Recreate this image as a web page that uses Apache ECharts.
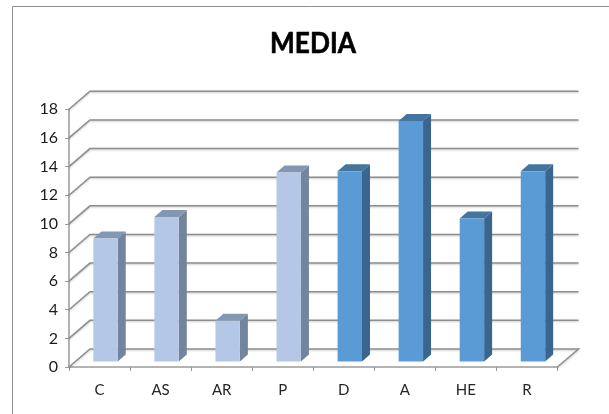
<!DOCTYPE html>
<html>
<head>
<meta charset="utf-8">
<style>html,body{margin:0;padding:0;background:#fff}#chart{width:609px;height:414px}</style>
<script src="https://cdn.jsdelivr.net/npm/echarts@6/dist/echarts.min.js"></script>
</head>
<body>
<div id="chart"></div>
<script>
const categories = ['C', 'AS', 'AR', 'P', 'D', 'A', 'HE', 'R'];
const lightCategories = ['C', 'AS', 'AR', 'P'];
const lightValues = [8.6, 10.1, 2.85, 13.2];
const darkCategories = ['D', 'A', 'HE', 'R'];
const darkValues = [13.3, 16.8, 10, 13.3];
const yTicks = [0, 2, 4, 6, 8, 10, 12, 14, 16, 18];
const chartTitle = 'MEDIA';

const FONT = 'Lato, "Open Sans", sans-serif';
const GRID_COLOR = '#8e8e8e';
// Oblique projection: how far the back wall sits from the front plane, in pixels.
const WALL_DX = 21, WALL_DY = -18;
const BAR_DX = 6, BAR_DY = -5.4, BAR_DEPTH_X = 8, BAR_DEPTH_Y = -7;

// One gridline: rises from the value axis to the back wall, then runs along it.
function renderWallLine(params, api) {
  const rect = params.coordSys;
  const y = api.coord([0, api.value(0)])[1];
  const left = rect.x, right = rect.x + rect.width;
  const isFloor = api.value(0) === 0;
  const pts = [[left, y], [left + WALL_DX, y + WALL_DY], [right + WALL_DX, y + WALL_DY]];
  if (isFloor) pts.push([right, y]);
  return {
    type: 'polyline',
    shape: { points: pts },
    style: {
      fill: 'none', stroke: GRID_COLOR, lineWidth: 1.5,
      shadowColor: 'rgba(0,0,0,0.22)', shadowBlur: 2, shadowOffsetY: 1
    },
    silent: true
  };
}

function barRenderer(front, side, top) {
  return function (params, api) {
    const base = api.coord([api.value(0), 0]);
    const head = api.coord([api.value(0), api.value(1)]);
    const w = api.size([1, 0])[0] * 0.4;
    const x0 = base[0] + BAR_DX - w / 2, x1 = x0 + w;
    const yb = base[1] + BAR_DY, yt = head[1] + BAR_DY;
    const dx = BAR_DEPTH_X, dy = BAR_DEPTH_Y;
    return {
      type: 'group',
      children: [
        { type: 'polygon', shape: { points: [[x1, yt], [x1 + dx, yt + dy], [x1 + dx, yb + dy], [x1, yb]] }, style: { fill: side } },
        { type: 'polygon', shape: { points: [[x0, yt], [x0 + dx, yt + dy], [x1 + dx, yt + dy], [x1, yt]] }, style: { fill: top } },
        { type: 'rect', shape: { x: x0, y: yt, width: w, height: yb - yt }, style: { fill: front } }
      ]
    };
  };
}

const chart = echarts.init(document.getElementById('chart'), null, { renderer: 'canvas' });
chart.setOption({
  animation: false,
  backgroundColor: '#ffffff',
  grid: { left: 69, right: 51.5, top: 109.3, bottom: 47 },
  xAxis: {
    type: 'category', data: categories,
    axisLine: { lineStyle: { color: '#9a9a9a', width: 1.5 } },
    axisTick: { show: true, alignWithLabel: false, length: 4, lineStyle: { color: '#9a9a9a', width: 1 } },
    axisLabel: { fontFamily: FONT, fontSize: 15, color: '#262626', margin: 16 }
  },
  yAxis: {
    type: 'value', min: 0, max: 18, interval: 2,
    axisLine: { show: true, lineStyle: { color: '#9a9a9a', width: 1.5 } },
    axisTick: { show: true, length: 4, lineStyle: { color: '#9a9a9a', width: 1 } },
    axisLabel: { fontFamily: FONT, fontSize: 16, color: '#1c1c1c', margin: 11, padding: [3, 0, 0, 0] },
    splitLine: { show: false }
  },
  graphic: [
    {
      type: 'polyline', silent: true, z: -1,
      shape: { points: [[12.5, 414], [12.5, 6.5], [609, 6.5]] },
      style: { fill: 'none', stroke: '#8f8f8f', lineWidth: 1 }
    },
    {
      // Condensed a little horizontally, with a thin outline for extra weight.
      type: 'text', silent: true, x: 313, y: 44, scaleX: 0.905,
      style: {
        text: chartTitle, fontFamily: FONT, fontSize: 29, fontWeight: 'bold',
        fill: '#000000', stroke: '#000000', lineWidth: 0.6,
        align: 'center', verticalAlign: 'middle'
      }
    }
  ],
  series: [
    {
      type: 'custom', coordinateSystem: 'cartesian2d', clip: false, z: 1,
      encode: { y: 0 }, data: yTicks.map(v => [v]), renderItem: renderWallLine
    },
    {
      type: 'custom', coordinateSystem: 'cartesian2d', clip: false, z: 2,
      encode: { x: 0, y: 1 },
      data: lightCategories.map((c, i) => [categories.indexOf(c), lightValues[i]]),
      renderItem: barRenderer('#b4c7e7', '#73849e', '#8497b0')
    },
    {
      type: 'custom', coordinateSystem: 'cartesian2d', clip: false, z: 2,
      encode: { x: 0, y: 1 },
      data: darkCategories.map((c, i) => [categories.indexOf(c), darkValues[i]]),
      renderItem: barRenderer('#5b9bd5', '#39658f', '#44759f')
    }
  ]
});
</script>
</body>
</html>
